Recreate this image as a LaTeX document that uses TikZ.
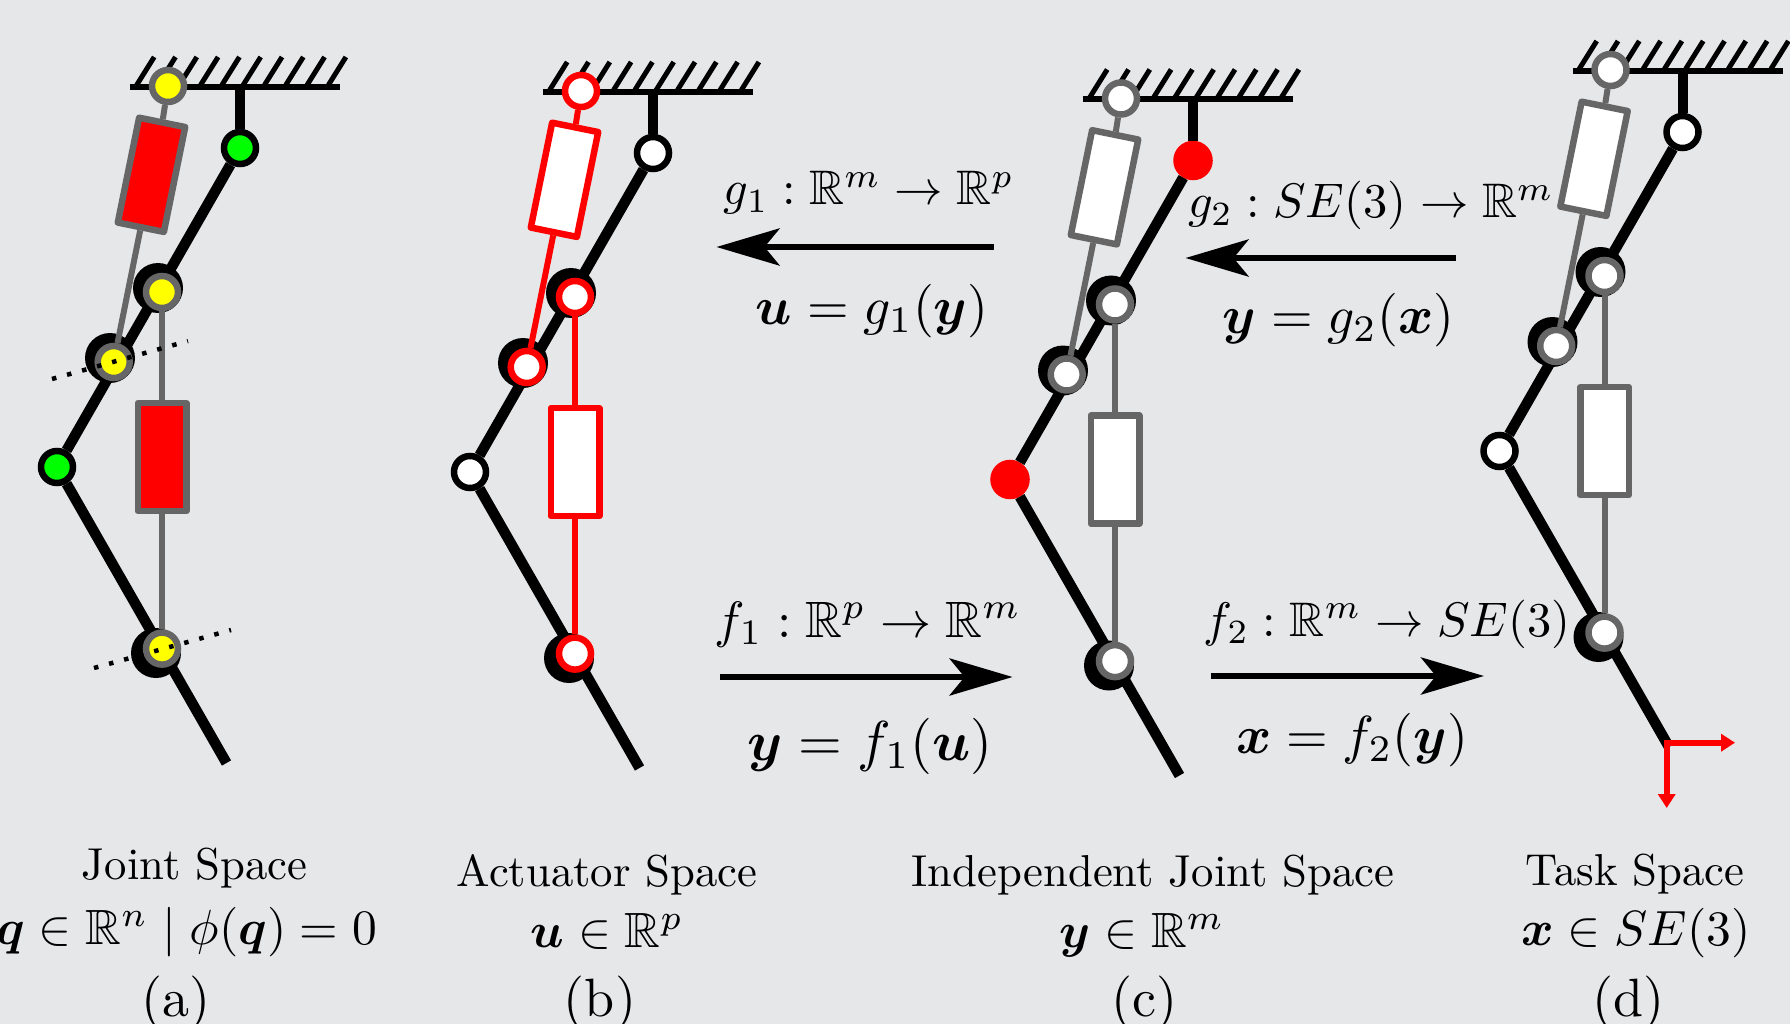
\documentclass[tikz,border=0pt]{standalone}
\usepackage{amsmath,amssymb}
\usetikzlibrary{arrows.meta}
\definecolor{bgc}{HTML}{E6E7E9}
\definecolor{greyc}{HTML}{666666}
\definecolor{pureyellow}{RGB}{255,255,0}
\definecolor{puregreen}{RGB}{0,255,0}
\definecolor{purered}{RGB}{255,0,0}
\tikzset{
  linkline/.style={line width=10.5pt,black},
  hangline/.style={line width=10pt,black},
  groundline/.style={line width=6pt,black},
  hatchline/.style={line width=5pt,black},
  blackdisc/.style={circle,fill=black,minimum size=50pt,inner sep=0pt},
  jointring/.style={circle,line width=6.5pt,minimum size=32pt,inner sep=0pt},
  passiveA/.style={jointring,draw=black,fill=puregreen},
  passiveB/.style={jointring,draw=black,fill=white},
  passiveC/.style={jointring,draw=purered,fill=purered,minimum size=33pt},
  cylinder box/.style={rectangle,line width=6.5pt,line join=round,inner sep=0pt},
  rod/.style={line width=6pt},
  bigarrow/.style={line width=6.5pt,-{Stealth[length=63pt,width=37pt,inset=15pt]}},
  framearrow/.style={purered,line width=6pt,{Triangle[length=14pt,width=17pt]}-{Triangle[length=14pt,width=17pt]}},
  dotline/.style={line width=4.5pt,dash pattern=on 4.5pt off 11.1pt},
  txt/.style={anchor=base,inner sep=0pt,scale=4.47},
  mapl/.style={anchor=base,inner sep=0pt,scale=4.85},
  maplb/.style={anchor=base,inner sep=0pt,scale=5.11},
  eqn/.style={anchor=base,inner sep=0pt,scale=5.35},
  eqnb/.style={anchor=base,inner sep=0pt,scale=5.62},
  capm/.style={anchor=base,inner sep=0pt,scale=4.95},
  subcap/.style={anchor=base,inner sep=0pt,scale=5.4},
}
% #1 name, #2 dx, #3 dy, #4 rod colour, #5 joint fill, #6 passive joint style, #7 cylinder fill
\newcommand{\robotarm}[7]{%
\begin{scope}[shift={(#2,#3)}]
  \foreach \i in {0,...,9}{\draw[hatchline] (136.7+21.3*\i,85) -- ++(17.5,-28);}
  \coordinate (#1gl) at (130,87);
  \coordinate (#1gr) at (340,87);
  \coordinate (#1hang) at (240,87);
  \coordinate (#1end) at (226.5,763);
  \draw[groundline] (#1gl) -- (#1gr);
  \node[#6] (#1pa) at (240,148) {};
  \node[#6] (#1pb) at (57,467) {};
  \node[blackdisc] (#1da) at (158,288) {};
  \node[blackdisc] (#1db) at (110,358) {};
  \node[blackdisc] (#1dc) at (156,653) {};
  \draw[hangline] (#1hang) -- (#1pa);
  \draw[linkline] (#1pa) -- (#1pb);
  \draw[linkline] (#1pb) -- (#1end);
  \node[jointring,draw=#4,fill=#5] (#1ja) at (168,86) {};
  \node[jointring,draw=#4,fill=#5] (#1jb) at (162,292) {};
  \node[jointring,draw=#4,fill=#5] (#1jc) at (113.7,362) {};
  \node[jointring,draw=#4,fill=#5] (#1jd) at (162,648.6) {};
  \node[cylinder box,draw=#4,fill=#7,minimum width=47pt,minimum height=107pt,rotate=-11.5] (#1ra) at (151.5,174.8) {};
  \node[cylinder box,draw=#4,fill=#7,minimum width=48.5pt,minimum height=108pt] (#1rb) at (162,457.2) {};
  \draw[rod,#4] (#1ja) -- (#1ra.north);
  \draw[rod,#4] (#1ra.south) -- (#1jc);
  \draw[rod,#4] (#1jb) -- (#1rb.north);
  \draw[rod,#4] (#1rb.south) -- (#1jd);
\end{scope}}
\begin{document}
\begin{tikzpicture}[x=1pt,y=-1pt]
\useasboundingbox (0,0) rectangle (1790,1024);
\fill[bgc] (0,0) rectangle (1790,1024);

\robotarm{a}{0}{0}{greyc}{pureyellow}{passiveA}{purered}
\robotarm{b}{413}{5}{purered}{white}{passiveB}{white}
\robotarm{c}{953}{12.5}{greyc}{white}{passiveC}{white}
\robotarm{d}{1442.5}{-16}{greyc}{white}{passiveB}{white}

\coordinate (dotAl) at (52,379);
\coordinate (dotAr) at (188,341);
\coordinate (dotBl) at (94,668);
\coordinate (dotBr) at (231,630);
\draw[dotline] (dotAl) -- (dotAr);
\draw[dotline] (dotBl) -- (dotBr);

% task frame
\coordinate (fo) at (1666.7,742.7);
\coordinate (fx) at (1735,742.7);
\coordinate (fy) at (1666.7,808);
\draw[framearrow] (fx) -- (fo) -- (fy);

% mapping arrows
\coordinate (g1s) at (993.5,247); \coordinate (g1e) at (716.5,247);
\coordinate (g2s) at (1456,258);  \coordinate (g2e) at (1185.5,258);
\coordinate (f1s) at (720,677);   \coordinate (f1e) at (1012.6,677);
\coordinate (f2s) at (1211,676);  \coordinate (f2e) at (1484,676);
\draw[bigarrow] (g1s) -- (g1e);
\draw[bigarrow] (g2s) -- (g2e);
\draw[bigarrow] (f1s) -- (f1e);
\draw[bigarrow] (f2s) -- (f2e);

\node[mapl] (lg1) at (869,205) {$g_1:\mathbb{R}^m\rightarrow\mathbb{R}^p$};
\node[eqn] (lg1e) at (872,324) {$\boldsymbol{u}=g_1(\boldsymbol{y})$};
\node[mapl] (lg2) at (1371,218) {$g_2:SE(3)\rightarrow\mathbb{R}^m$};
\node[eqn] (lg2e) at (1338.5,333) {$\boldsymbol{y}=g_2(\boldsymbol{x})$};
\node[maplb] (lf1) at (868,637) {$f_1:\mathbb{R}^p\rightarrow\mathbb{R}^m$};
\node[eqnb] (lf1e) at (870,760) {$\boldsymbol{y}=f_1(\boldsymbol{u})$};
\node[mapl] (lf2) at (1387,636) {$f_2:\mathbb{R}^m\rightarrow SE(3)$};
\node[eqn] (lf2e) at (1352,753) {$\boldsymbol{x}=f_2(\boldsymbol{y})$};

\node[txt] (ca1) at (194.5,879) {Joint Space};
\node[capm,anchor=base east] (ca2) at (378,944.6) {$\boldsymbol{q}\in\mathbb{R}^n\mid\phi(\boldsymbol{q})=0$};
\node[subcap] (ca3) at (176,1016) {(a)};
\node[txt] (cb1) at (607,886) {Actuator Space};
\node[capm] (cb2) at (607,947) {$\boldsymbol{u}\in\mathbb{R}^p$};
\node[subcap] (cb3) at (600,1016) {(b)};
\node[txt] (cc1) at (1153,886) {Independent Joint Space};
\node[capm] (cc2) at (1142,947) {$\boldsymbol{y}\in\mathbb{R}^m$};
\node[subcap] (cc3) at (1144,1016) {(c)};
\node[txt] (cd1) at (1635,885.7) {Task Space};
\node[capm] (cd2) at (1636,945) {$\boldsymbol{x}\in SE(3)$};
\node[subcap] (cd3) at (1628,1016.7) {(d)};
\end{tikzpicture}
\end{document}
